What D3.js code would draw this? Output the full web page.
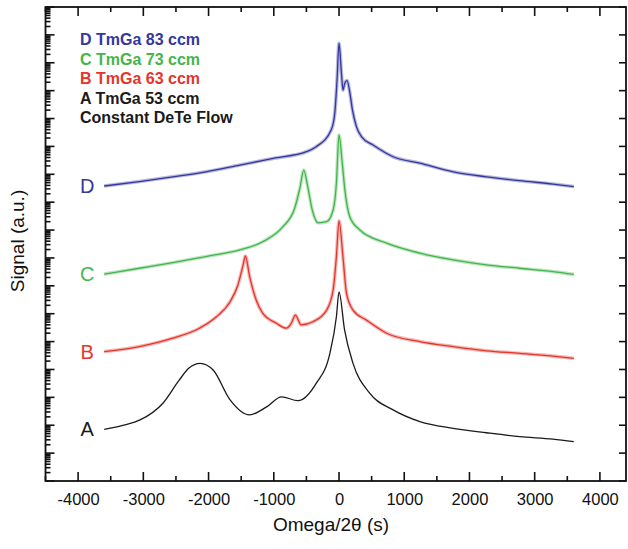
<!DOCTYPE html>
<html><head><meta charset="utf-8">
<script src="https://cdn.jsdelivr.net/npm/d3@7"></script>
<style>
html,body{margin:0;padding:0;background:#fff;}
svg text{font-family:"Liberation Sans",Arial,sans-serif;}
</style></head>
<body><svg id="c" width="628" height="549"></svg>
<script>
// x positions (Omega/2θ, s) and log10(signal)
const xA = [-3600,-3300,-3050,-2700,-2450,-2300,-2130,-1930,-1670,-1370,-1110,-880,-630,-350,-140,-40,0,85,215,470,830,1240,1750,2260,2770,3280,3600];
const logA = [1.85,2.0,2.19,2.79,3.62,4.05,4.22,3.98,2.91,2.37,2.66,3.02,2.88,3.50,4.58,5.89,6.78,5.42,4.22,3.15,2.55,2.13,1.89,1.73,1.59,1.50,1.41];

const xB = [-3600,-3060,-2550,-2140,-1880,-1670,-1550,-1470,-1436,-1370,-1270,-1170,-960,-810,-730,-670,-580,-400,-190,-90,-40,0,60,115,215,420,730,1240,1750,2260,2770,3280,3600];
const logB = [4.64,4.82,5.12,5.48,5.89,6.43,7.03,7.75,8.07,7.33,6.49,6.02,5.66,5.48,5.66,5.95,5.60,5.71,6.13,6.85,8.05,9.33,8.05,6.73,6.13,5.77,5.30,5.00,4.82,4.67,4.58,4.48,4.40];

const xC = [-3600,-3060,-2550,-2040,-1520,-1170,-860,-680,-600,-540,-480,-410,-320,-190,-90,-40,0,50,90,165,320,730,1240,1750,2260,2770,3280,3600];
const logC = [7.42,7.63,7.83,8.05,8.29,8.58,9.12,9.78,10.50,11.15,10.56,9.72,9.26,9.30,9.72,10.68,12.41,11.40,10.44,9.48,9.00,8.53,8.17,7.93,7.75,7.63,7.51,7.41];

const xD = [-3600,-3060,-2550,-2040,-1520,-1010,-500,-350,-120,-65,-30,0,37,61,87,123,164,206,267,344,522,830,1240,1750,2260,2770,3280,3600];
const logD = [10.58,10.74,10.91,11.09,11.33,11.57,11.81,11.99,12.59,13.19,14.38,15.70,14.62,14.02,14.26,14.36,13.96,13.31,12.71,12.35,12.05,11.63,11.40,11.09,10.91,10.77,10.65,10.56];

const seriesNames = ["A","B","C","D"];
const seriesColors = ["#1a1a1a","#e5352b","#44b54c","#34379c"];
const legendLines = ["D TmGa 83 ccm","C TmGa 73 ccm","B TmGa 63 ccm","A TmGa 53 ccm","Constant DeTe Flow"];
const legendColors = ["#34379c","#44b54c","#e5352b","#1a1a1a","#1a1a1a"];
const xTickValues = [-4000,-3000,-2000,-1000,0,1000,2000,3000,4000];
const xDomain = [-4500,4400];
const yDomain = [1,1e17];
const xTitle = "Omega/2θ (s)";
const yTitle = "Signal (a.u.)";

const svg = d3.select("#c");
const L=45.5, R=626, T=7, B=481;
const x = d3.scaleLinear().domain(xDomain).range([L,R]);
const y = d3.scaleLog().domain(yDomain).range([B,T]);

const series = [
  {name:"A", xs:xA, ls:logA, band:false},
  {name:"B", xs:xB, ls:logB, band:true},
  {name:"C", xs:xC, ls:logC, band:true},
  {name:"D", xs:xD, ls:logD, band:true}
];

const line = d3.line().x(d=>x(d[0])).y(d=>y(Math.pow(10,d[1]))).curve(d3.curveMonotoneX);

series.forEach((s,i)=>{
  const pts = s.xs.map((v,j)=>[v,s.ls[j]]);
  const col = seriesColors[i];
  if(s.band){
    svg.append("path").attr("d",line(pts)).attr("fill","none")
      .attr("stroke",col).attr("stroke-width",3.6).attr("stroke-opacity",0.35).attr("stroke-linejoin","round");
  }
  svg.append("path").attr("d",line(pts)).attr("fill","none")
    .attr("stroke",col).attr("stroke-width",1.3).attr("stroke-linejoin","round");
  svg.append("text").attr("x",x(-3600)-17).attr("y",y(Math.pow(10,s.ls[0]))+7)
    .attr("text-anchor","middle").attr("font-size",20).attr("fill",col).text(s.name);
});

// bottom tick labels
svg.append("g").attr("transform",`translate(0,${B})`)
  .call(d3.axisBottom(x).tickValues(xTickValues).tickSize(0).tickPadding(12).tickFormat(d=>String(d)))
  .call(g=>g.select(".domain").remove())
  .selectAll("text").attr("font-size",16.5).attr("fill","#111").style("font-family","Liberation Sans, Arial, sans-serif");

// tick marks drawn inward
const xMinor = d3.range(-4500,4401,500);
const tickG = svg.append("g").attr("stroke","#111").attr("stroke-width",1.6);
xMinor.forEach(v=>{
  const major = v%1000===0;
  const len = major?9:5;
  tickG.append("line").attr("x1",x(v)).attr("x2",x(v)).attr("y1",B).attr("y2",B-len);
  tickG.append("line").attr("x1",x(v)).attr("x2",x(v)).attr("y1",T).attr("y2",T+len);
});
const yTicks = y.ticks(200).filter(v=>v>=1 && v<=1e17);
yTicks.forEach(v=>{
  const mant = Math.round(v/Math.pow(10,Math.floor(Math.log10(v)+1e-9)));
  const major = mant===1;
  tickG.append("line").attr("x1",L).attr("x2",L+(major?9:5)).attr("y1",y(v)).attr("y2",y(v));
  if(major) tickG.append("line").attr("x1",R).attr("x2",R-7).attr("y1",y(v)).attr("y2",y(v));
});

// frame
svg.append("rect").attr("x",L).attr("y",T).attr("width",R-L).attr("height",B-T)
  .attr("fill","none").attr("stroke","#111").attr("stroke-width",1.8);

// axis titles
svg.append("text").attr("x",331).attr("y",531).attr("text-anchor","middle").attr("font-size",19).attr("fill","#111").text(xTitle);
svg.append("text").attr("transform","translate(24,241) rotate(-90)").attr("text-anchor","middle").attr("font-size",19).attr("fill","#111").text(yTitle);

// legend
legendLines.forEach((t,i)=>{
  svg.append("text").attr("x",80).attr("y",45+i*19.5).attr("font-size",16).attr("font-weight","bold")
    .attr("fill",legendColors[i]).text(t);
});
</script></body></html>
